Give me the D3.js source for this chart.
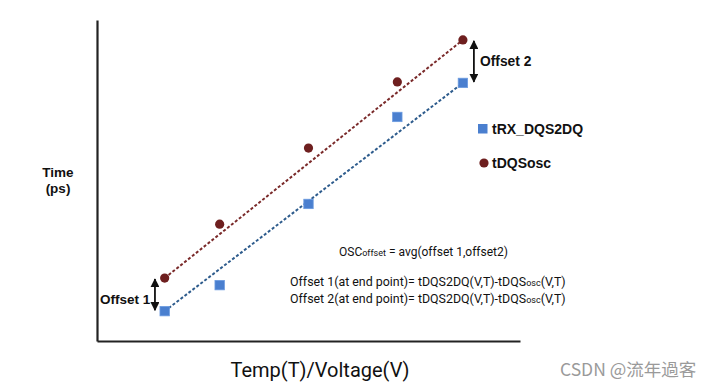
<!DOCTYPE html>
<html><head><meta charset="utf-8">
<script src="https://cdn.jsdelivr.net/npm/d3@7"></script>
<style>body{margin:0;background:#fff}svg{display:block}</style>
</head><body><svg id="c" width="713" height="385"></svg>
<script>
const xVals = [16, 29, 50, 71, 86.5];
const oscVals = [19.6, 36.4, 60.1, 80.7, 93.8];   // tDQSosc
const rxVals = [9.3, 17.4, 42.7, 69.8, 80.4];     // tRX_DQS2DQ
const seriesNames = ["tRX_DQS2DQ", "tDQSosc"];
const offset1X = 13.7, offset2X = 89.1;

const svg = d3.select("#c");
const x = d3.scaleLinear().domain([0, 100]).range([97, 520]);
const y = d3.scaleLinear().domain([0, 100]).range([341, 20]);

const red = "#6e1f1f", blue = "#4a7fcf";

// axes
const ax = svg.append("g").attr("transform", "translate(0,341)").call(d3.axisBottom(x).ticks(0).tickSizeOuter(0));
const ay = svg.append("g").attr("transform", "translate(97,0)").call(d3.axisLeft(y).ticks(0).tickSizeOuter(0));
[ax, ay].forEach(g => g.select(".domain").attr("stroke", "#222").attr("stroke-width", 2.2));

// defs arrow
const defs = svg.append("defs");
defs.append("marker").attr("id", "ah").attr("viewBox", "0 0 10 10").attr("refX", 9).attr("refY", 5)
  .attr("markerWidth", 5).attr("markerHeight", 5).attr("orient", "auto-start-reverse")
  .append("path").attr("d", "M0,0L10,5L0,10z").attr("fill", "#111");

// trend lines (first to last point)
const n = xVals.length - 1;
svg.append("line").attr("x1", x(xVals[0])).attr("y1", y(oscVals[0])).attr("x2", x(xVals[n])).attr("y2", y(oscVals[n]))
  .attr("stroke", "#7a2a2a").attr("stroke-width", 2).attr("stroke-dasharray", "3,2");
svg.append("line").attr("x1", x(xVals[0])).attr("y1", y(rxVals[0])).attr("x2", x(xVals[n])).attr("y2", y(rxVals[n]))
  .attr("stroke", "#2d5b8c").attr("stroke-width", 2).attr("stroke-dasharray", "3,2");

// points
svg.selectAll("circle.osc").data(xVals).join("circle").attr("class", "osc")
  .attr("cx", (d) => x(d)).attr("cy", (d, i) => y(oscVals[i])).attr("r", 4.6).attr("fill", red);
svg.selectAll("rect.rx").data(xVals).join("rect").attr("class", "rx")
  .attr("x", d => x(d) - 4.7).attr("y", (d, i) => y(rxVals[i]) - 4.7).attr("width", 9.4).attr("height", 9.4)
  .attr("fill", blue).attr("stroke", "#6b9be0").attr("stroke-width", 0.8);

// offset arrows
function arrow(xv, y1v, y2v) {
  svg.append("line").attr("x1", x(xv)).attr("x2", x(xv)).attr("y1", y(y1v) + 1).attr("y2", y(y2v) - 1)
    .attr("stroke", "#111").attr("stroke-width", 1.8)
    .attr("marker-start", "url(#ah)").attr("marker-end", "url(#ah)");
}
arrow(offset1X, oscVals[0], rxVals[0]);
arrow(offset2X, oscVals[n], rxVals[n]);

const bold = "'Liberation Sans', Arial, sans-serif";
svg.append("text").attr("x", 100).attr("y", 304).attr("font-family", bold).attr("font-weight", "bold")
  .attr("font-size", 13.5).attr("fill", "#111").text("Offset 1");
svg.append("text").attr("x", 480).attr("y", 66).attr("font-family", bold).attr("font-weight", "bold")
  .attr("font-size", 13.8).attr("fill", "#111").text("Offset 2");

// legend
svg.append("rect").attr("x", 478).attr("y", 124).attr("width", 9.5).attr("height", 9.5).attr("fill", blue);
svg.append("text").attr("x", 492).attr("y", 134).attr("font-family", bold).attr("font-weight", "bold")
  .attr("font-size", 14).attr("fill", "#111").text(seriesNames[0]);
svg.append("circle").attr("cx", 484).attr("cy", 163).attr("r", 4.6).attr("fill", red);
svg.append("text").attr("x", 492).attr("y", 168).attr("font-family", bold).attr("font-weight", "bold")
  .attr("font-size", 14).attr("fill", "#111").text(seriesNames[1]);

// y label
const yl = svg.append("text").attr("text-anchor", "middle").attr("font-family", bold).attr("font-weight", "bold")
  .attr("font-size", 13.5).attr("fill", "#111");
yl.append("tspan").attr("x", 58).attr("y", 177).text("Time");
yl.append("tspan").attr("x", 58).attr("y", 193).text("(ps)");

// formulas
const rob = "Roboto, 'Noto Sans', sans-serif";
const f0 = svg.append("text").attr("x", 339).attr("y", 256).attr("font-family", rob).attr("font-size", 12).attr("fill", "#111");
f0.append("tspan").text("OSC");
f0.append("tspan").attr("font-size", 9).text("offset");
f0.append("tspan").text(" = avg(offset 1,offset2)");
function formula(yy, label) {
  const t = svg.append("text").attr("x", 290).attr("y", yy).attr("font-family", rob).attr("font-size", 12.4).attr("fill", "#111");
  t.append("tspan").text(label + "(at end point)= tDQS2DQ(V,T)-tDQS");
  t.append("tspan").attr("font-size", 9).text("osc");
  t.append("tspan").text("(V,T)");
}
formula(286, "Offset 1");
formula(303, "Offset 2");

// x label
svg.append("text").attr("x", 320).attr("y", 377).attr("text-anchor", "middle").attr("font-family", rob)
  .attr("font-size", 20).attr("fill", "#111").text("Temp(T)/Voltage(V)");

// watermark
svg.append("text").attr("x", 560).attr("y", 376).attr("font-family", "'Noto Sans CJK SC', 'Noto Sans', sans-serif")
  .attr("font-size", 17.5).attr("fill", "#9a9a9a").text("CSDN @流年過客");
</script></body></html>
